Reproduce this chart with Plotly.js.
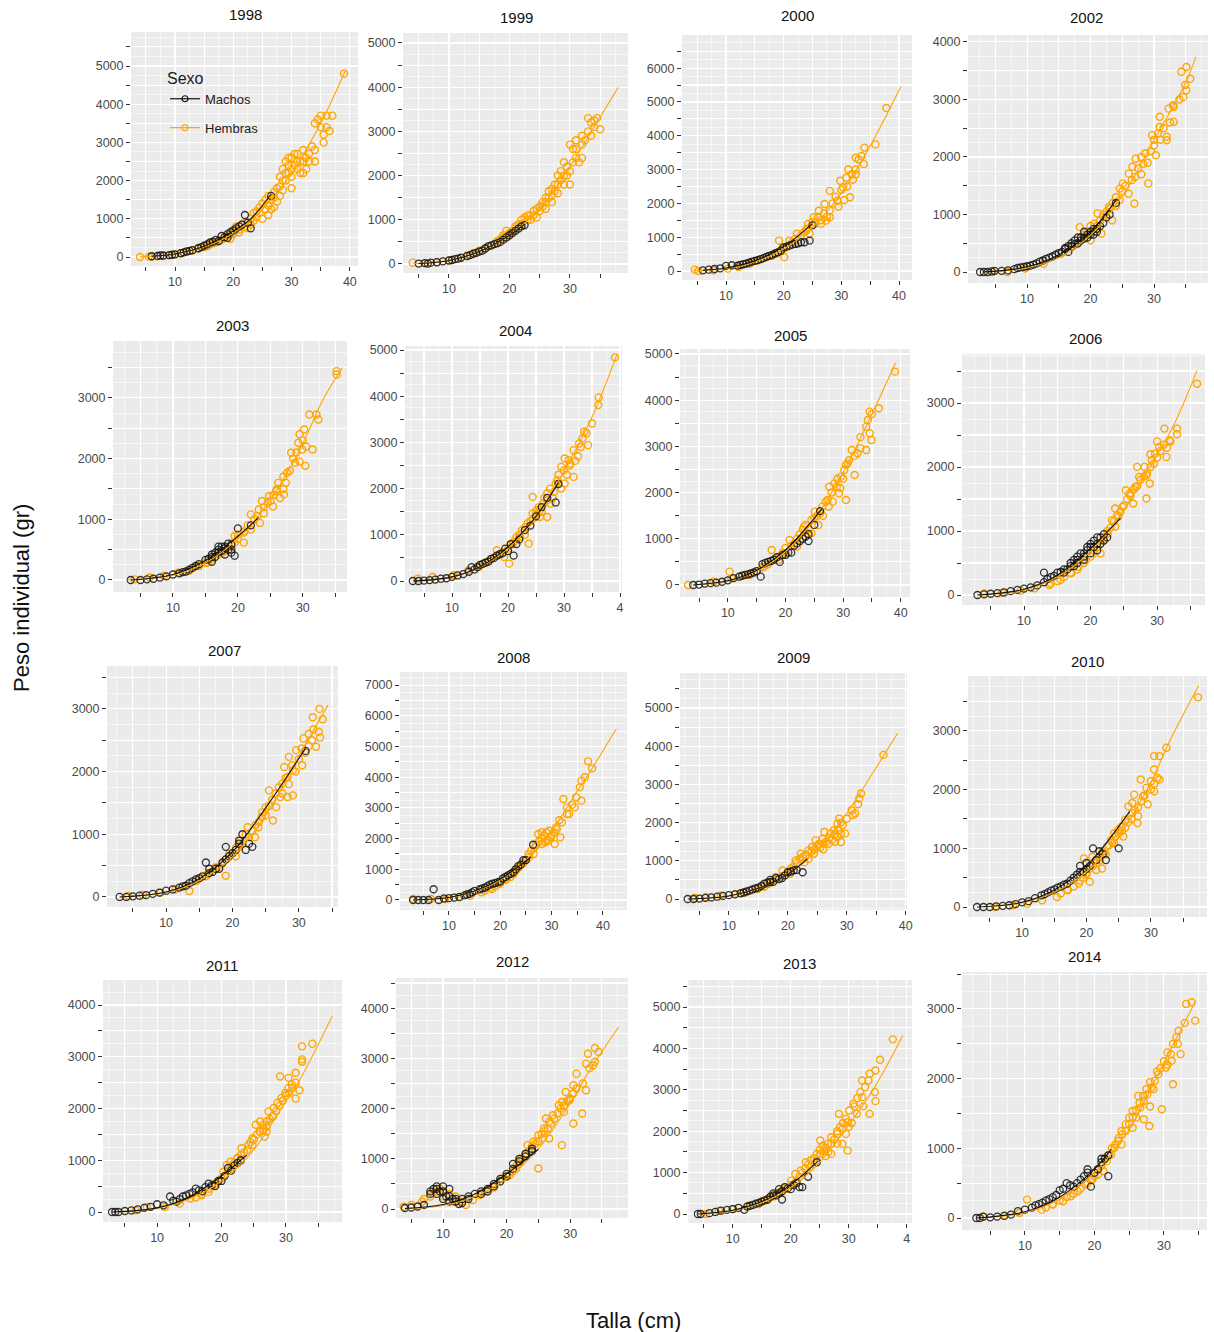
<!DOCTYPE html>
<html>
<head>
<meta charset="utf-8">
<script src="https://cdn.plot.ly/plotly-3.0.1.min.js"></script>
<style>html,body{margin:0;padding:0;background:#fff;}#chart{width:1214px;height:1332px;}</style>
</head>
<body>
<div id="chart"></div>
<script>
// ---------- Data (Talla cm, Peso gr) ----------
const SEXOS = ['Machos', 'Hembras'];
const X_TICKVALS = [5, 10, 15, 20, 25, 30, 35, 40, 45];
const X_TICKTEXT = ['', '10', '', '20', '', '30', '', '40', ''];
const X_TICKTEXT_CUT = ['', '10', '', '20', '', '30', '', '4', ''];
const Y_TICKVALS = [0, 500, 1000, 1500, 2000, 2500, 3000, 3500, 4000, 4500, 5000, 5500, 6000, 6500, 7000, 7500];
const Y_TICKTEXT = ['0', '', '1000', '', '2000', '', '3000', '', '4000', '', '5000', '', '6000', '', '7000', ''];

const H1998 = [[4,0],[5.5,10],[6,10],[7,20],[8,30],[9,50],[10,70],[11,100],[12,130],[13,170],[14,230],[15,260],[16,330],[17,380],[18,450],[19,560],[19.5,480],[20,650],[20.5,800],[21,720],[22,900],[22.5,760],[23,1000],[23.5,1150],[24,1200],[24.5,1300],[25,1400],[25,1000],[25.5,1250],[26,1600],[26,1100],[26.5,1500],[27,1700],[27,1300],[27.5,1800],[28,2100],[28,1600],[28.5,2300],[28.5,2000],[29,2500],[29,2000],[29.5,2200],[29.5,2600],[30,2600],[30,1800],[30,2300],[30.5,2400],[31,2700],[31,2300],[31.5,2500],[32,2800],[32,2200],[32.5,2600],[33,2700],[33.5,2900],[34,3500],[34,2500],[34.5,3600],[35,3700],[35.5,3200],[36,3400],[36.5,3300],[37,3700],[39,4800],
  [15.5,280],[16.5,350],[17.5,420],[18.5,500],[19,520],[20,600],[21,650],[21.5,850],[22,780],[23,850],[23.5,950],[24,1050],[24.5,1150],[25.5,1500],[26,1350],[26.5,1250],[27,1550],[27.5,1450],[28,1850],[28.5,1750],[29,2200],[29.5,2400],[30,2100],[30.5,2700],[31,2500],[31.5,2200],[32,2500],[32.5,2300],[33,2500],[34,2800],[35,3400],[36,3700],[35.5,3000]];
const M1998 = [[6,20],[7,30],[7.5,40],[8,40],[9,50],[9.5,60],[10,70],[11,100],[12,150],[13,180],[14,230],[15,300],[16,380],[17,450],[17.5,420],[18,550],[19,600],[19,500],[20,700],[21,800],[22,1100],[22.5,900],[23,750],[26.5,1600],
  [14.5,260],[15.5,330],[16.5,400],[18.5,520],[19.5,650],[20.5,750],[21.5,850],[12.5,160],[11.5,120]];
const CH1998 = [[4,5],[10,80],[15,260],[20,620],[25,1250],[30,2200],[35,3500],[39.3,4900]];
const CM1998 = [[6,20],[10,80],[15,280],[20,680],[23,1000],[26.5,1650]];

const H1999 = [[4,30],[6,20],[8,40],[10,80],[12,150],[13,200],[14,250],[15,300],[16,350],[17,420],[18,520],[19,600],[19.5,750],[20,650],[21,800],[22,900],[22.5,1050],[23,1000],[23.5,1100],[24,1200],[24.5,1050],[25,1300],[25.5,1400],[26,1500],[26,1250],[26.5,1650],[27,1700],[27,1400],[27.5,1800],[28,1600],[28,2000],[28.5,2100],[29,1800],[29,2300],[29.5,2200],[30,1800],[30,2700],[30.5,2600],[31,2400],[31,2800],[31.5,2300],[32,2900],[32,2700],[33,3300],[33.5,3200],[34,3100],[34.5,3300],[35,3050],
  [18.5,560],[19,650],[20,700],[20.5,750],[21,850],[21.5,900],[22,1000],[23,1100],[23.5,1000],[24,1100],[24.5,1250],[25,1200],[25.5,1300],[26,1400],[26.5,1500],[27,1550],[27.5,1650],[28,1800],[28.5,1900],[29,2000],[29.5,2000],[30,2100],[30.5,2300],[31,2600],[32,2400],[32.5,2800],[33,3000],[34,3250],[33.5,2900]];
const M1999 = [[5,10],[6,20],[6.5,10],[7,30],[8,40],[9,60],[10,80],[11,110],[12,140],[13,180],[14,230],[15,280],[16,350],[16.5,400],[17,420],[18,470],[19,550],[20,650],[21,750],[22,850],[22.5,880],
  [13.5,200],[14.5,250],[15.5,300],[17.5,450],[18.5,500],[19.5,600],[20.5,700],[21.5,800],[10.5,90],[11.5,120]];
const CH1999 = [[4,5],[10,85],[15,280],[20,650],[25,1250],[30,2200],[34,3100],[38,4000]];
const CM1999 = [[5,10],[10,80],[15,280],[20,650],[22.5,900]];

const H2000 = [[4.6,40],[5.2,0],[7.8,20],[10.3,70],[12.2,120],[14.1,215],[15.4,310],[17,410],[18.5,510],[19.2,900],[19.8,700],[20.1,410],[21,900],[22.3,1100],[23.9,1200],[24.2,1390],[25.2,1590],[25.5,1400],[26.1,1780],[26.5,1500],[27.1,1980],[27.3,1490],[28,2370],[28,1590],[29.3,2080],[29.8,2670],[30.3,2470],[30.9,2760],[31.2,3000],[31.5,2180],[31.8,2860],[32.5,3350],[32.5,2860],[33.9,3160],[34,3650],[35.9,3745],[37.8,4820],
  [16,350],[18,450],[19,550],[20,650],[21,750],[21.5,850],[22,950],[23,1050],[23.5,1150],[24,1250],[24.5,1100],[25,1450],[26,1600],[26.5,1400],[27,1700],[27.5,1600],[28,1800],[28.5,2000],[29,2200],[29.5,1900],[30,2400],[30.5,2100],[31,2500],[32,2700],[32.5,3000],[33,3300],[33.5,3400]];
const M2000 = [[6,20],[7,40],[8,60],[9,80],[10,150],[11,170],[12,160],[13,200],[14,250],[15,300],[16,350],[17,420],[18,480],[19,550],[20,700],[21,750],[22,800],[23,850],[23.6,850],[24.5,900],[25,1350],
  [12.5,180],[13.5,220],[14.5,280],[15.5,320],[16.5,380],[17.5,450],[18.5,520],[19.5,600],[20.5,720],[21.5,780],[22.5,820]];
const CH2000 = [[4,0],[10,75],[15,270],[20,650],[25,1300],[30,2300],[35,3700],[40.3,5450]];
const CM2000 = [[6,20],[10,90],[15,300],[20,720],[25,1400]];

const H2002 = [[4.6,0],[6.9,0],[9.7,60],[12.6,145],[15.4,320],[17.1,435],[18.3,780],[19,600],[19.5,700],[20,550],[20,800],[20.6,840],[21.1,1020],[21.7,670],[22,950],[22.9,1130],[23.4,900],[24.6,1450],[24.6,1250],[25.1,1540],[26,1710],[26,1360],[26.6,1830],[26.9,1190],[27.1,1970],[28.3,1880],[28.6,2060],[29.1,1540],[29.7,2380],[30,2200],[30.3,2030],[30.6,2410],[30.9,2700],[30.9,2520],[32,2350],[32,2290],[32.3,2840],[33.1,2870],[33.1,2610],[34.3,3480],[34.6,3040],[34.9,3250],[35.1,3565],[35.1,3160],[35.7,3360],
  [18,500],[19,650],[20.5,700],[21,800],[21.5,900],[22,1000],[22.5,1050],[23,1100],[23.5,1200],[24,1150],[24,1300],[25,1400],[25.5,1500],[26.5,1600],[27,1650],[27.5,1800],[28,1700],[28,2000],[29,1900],[29.5,2100],[30,2300],[31,2300],[31.5,2500],[32.5,2600],[33,2900],[34,3000]];
const M2002 = [[2.6,0],[3.2,0],[3.8,0],[4.4,10],[4.9,20],[7,30],[8,50],[9,80],[10,100],[11,130],[12,180],[13,230],[14,270],[15,330],[16,400],[16.5,350],[17,450],[17.5,550],[18,500],[18.5,600],[19,580],[19.5,650],[20,700],[20.5,650],[21,750],[22,850],[23,1000],[24,1200],
  [13.5,250],[14.5,300],[15.5,350],[16,420],[16.5,450],[17,500],[17.5,480],[18,600],[18.5,550],[19,700],[19.5,600],[20,650],[20.5,750],[21,700],[21.5,800],[22.5,950],[12.5,200],[11.5,150],[10.5,110],[9.5,90],[8.5,70],[6,20]];
const CH2002 = [[3,0],[10,70],[15,250],[20,640],[25,1320],[30,2290],[35,3300],[36.6,3740]];
const CM2002 = [[3,0],[10,90],[15,300],[20,700],[24,1250]];

const H2003 = [[4.1,10],[6.4,40],[8.6,65],[10.8,120],[12.5,150],[13.6,230],[15.3,285],[16.4,370],[17.6,450],[18.7,505],[19.5,725],[19.5,615],[20.9,780],[20.9,615],[22,1080],[22,830],[23.2,1160],[23.4,940],[23.7,1300],[24.6,1270],[24.8,1380],[25.4,1210],[25.9,1465],[26.2,1600],[27.1,1410],[27.4,1600],[27.6,1766],[28.2,2095],[28.8,1930],[29.3,2260],[29.9,2150],[30.2,2480],[30.4,1880],[31,2726],[31.5,2150],[32.1,2726],[32.4,2644],[35.2,3440],[35.2,3385],
  [14,230],[15,280],[16,340],[17,420],[18,480],[19,600],[20,680],[20,750],[21,800],[21.5,900],[22.5,1000],[23,1050],[24,1200],[24,1100],[25,1300],[25.5,1400],[26,1500],[26.5,1350],[27,1500],[27,1700],[28,1800],[28.5,2000],[29,2100],[29.5,1950],[30,2300],[30.5,2200],[29.5,2400]];
const M2003 = [[3.5,0],[5,0],[6,10],[7,20],[8,40],[9,60],[10,90],[11,110],[12,140],[13,200],[14,260],[15,330],[16,380],[16.5,450],[17,500],[17.5,550],[18,520],[18,420],[18.5,600],[19,500],[19.5,400],[20,850],[22,900],
  [15.5,350],[16,420],[16.5,380],[17,460],[17.5,480],[18,550],[18.5,500],[19,580],[19,450],[17,550],[16,300],[13.5,230],[12.5,170],[11.5,130]];
const CH2003 = [[3,0],[10,80],[15,280],[20,680],[25,1320],[30,2250],[33,2950],[36.1,3500]];
const CM2003 = [[3.5,0],[10,90],[15,320],[20,720],[23.2,1030]];

const H2004 = [[3.9,51],[6.5,87],[10.3,123],[12.9,231],[14.8,303],[16.7,448],[18,665],[19.3,520],[20.2,376],[20.9,809],[22.1,954],[23.1,1170],[23.7,809],[24.4,1460],[24.4,1821],[25.1,1532],[25.7,1387],[25.7,1532],[26.3,1676],[27,1387],[27,1750],[27.6,1676],[28.2,1929],[28.8,2182],[29.5,2471],[30.1,2652],[30.1,2110],[30.8,2616],[31.1,2543],[31.7,2832],[31.7,2254],[32.7,2977],[33.3,3085],[33.6,3230],[34.3,2941],[35,3410],[36.1,3808],[36.2,3974],[39.1,4841],
  [15,350],[16,400],[17,480],[18,550],[19,620],[20,700],[20.5,800],[21,850],[21.5,950],[22,1000],[22.5,1100],[23,1000],[23.5,1250],[24,1300],[24.5,1350],[25,1450],[25.5,1600],[26,1500],[26.5,1800],[27,1900],[27.5,2000],[28,1800],[28.5,2100],[29,2300],[29.5,2000],[30,2400],[30.5,2300],[31,2500],[32,2600],[32.5,2700],[33,2900],[34,3200]];
const M2004 = [[3,0],[4,0],[5,10],[6,20],[7,30],[8,50],[9,60],[10,90],[11,120],[12,150],[13,200],[13.5,300],[14,250],[15,350],[16,400],[17,480],[18,550],[19,600],[20,650],[21,550],[22,900],[25,1400],[28.5,1700],[29,2100],
  [14.5,300],[15.5,370],[16.5,420],[17.5,500],[18.5,580],[19.5,700],[20.5,800],[21.5,800],[23,1100],[24,1200],[26,1600],[27,1800]];
const CH2004 = [[4,0],[10,90],[15,300],[20,700],[25,1380],[30,2380],[35,3550],[39.4,4890]];
const CM2004 = [[3,0],[10,90],[15,310],[20,740],[25,1400],[29,2130]];

const H2005 = [[3.1,0],[7.5,72],[10.3,289],[10.6,144],[13.8,216],[16.3,397],[17.6,758],[18.8,541],[20.1,685],[20.7,974],[22,830],[23.2,1263],[23.9,1118],[24.5,1407],[24.5,1118],[25.1,1587],[25.7,1299],[26.4,1696],[27.3,1840],[27.6,2128],[28.2,1804],[28.9,2128],[29.3,1984],[29.6,2345],[30.2,2489],[30.5,1840],[30.8,2633],[31.5,2922],[32,2381],[32.5,2850],[33,2958],[34,2922],[34,3427],[34.3,3571],[34.6,3283],[34.6,3752],[34.9,3139],[36.2,3824],[39,4618],
  [12,180],[14,250],[15,300],[16,380],[17,450],[18,550],[19,620],[19.5,700],[20,800],[21,850],[21.5,900],[22,1000],[22.5,1100],[23,1200],[23.5,1300],[24,1200],[25,1450],[25.5,1500],[26,1550],[26.5,1500],[27,1800],[27.5,1700],[28,2000],[28.5,2200],[29,2300],[29.5,2100],[30,2300],[30.5,2600],[31,2700],[32,2800],[33,3200],[35,3700]];
const M2005 = [[4,0],[5,10],[6,30],[7,40],[8,50],[9,70],[10,100],[11,150],[12,180],[13,220],[14,250],[15,300],[15.7,180],[16,450],[17,500],[18,550],[19,500],[20,650],[21,700],[22,900],[23,1000],[24,1100],[24,950],[26,1600],
  [12.5,200],[13.5,230],[14.5,270],[16.5,480],[17.5,520],[18.5,600],[19.5,650],[20.5,700],[21.5,850],[22.5,950],[23.5,1050],[25,1300]];
const CH2005 = [[4,0],[10,85],[15,300],[20,720],[25,1420],[30,2430],[35,3700],[39.1,4810]];
const CM2005 = [[4,0],[10,90],[15,320],[20,760],[26.4,1660]];

const H2006 = [[4,26],[6.7,36],[9.5,68],[11.6,104],[13.8,156],[15.5,234],[17.1,338],[18.2,442],[19.3,546],[20.4,650],[21.5,650],[22,858],[22.6,962],[23.2,1170],[23.7,1066],[23.7,1352],[24.2,1222],[24.8,1378],[25.3,1638],[25.9,1586],[26.4,1430],[26.7,1690],[27,2002],[27.3,1846],[28.1,2002],[28.4,1872],[28.4,1508],[28.9,1742],[29.2,2106],[29.7,2210],[30.3,2314],[31.1,2600],[31.4,2158],[31.9,2418],[33,2512],[36,3302],
  [14,180],[15,220],[16,280],[17,350],[18,400],[19,500],[20,600],[20.5,700],[21,750],[21.5,800],[22,900],[22.5,1000],[23,1050],[23.5,1150],[24,1250],[24.5,1300],[25,1400],[25.5,1500],[26,1550],[26.5,1650],[27,1700],[27.5,1800],[28,1850],[28.5,1900],[29,2000],[29.5,2050],[30,2150],[30.5,2250],[31,2350],[31.5,2300],[32,2400],[33,2600],[30,2400],[29,2200]];
const M2006 = [[3,0],[4,10],[5,20],[6,30],[7,40],[8,60],[9,80],[10,100],[11,120],[12,150],[13,200],[13,350],[14,280],[15,350],[16,350],[16.5,400],[17,450],[18,550],[18.5,650],[19,600],[19.5,700],[20,750],[20.5,850],[21,800],[21.5,900],[22,950],
  [15.5,360],[16,400],[17,500],[17.5,450],[17.5,550],[18,600],[18,500],[19,650],[19,550],[19.5,750],[20,800],[20,650],[20.5,750],[21,900],[21,700],[21.5,800],[22,850],[22.5,900],[14.5,300],[13.5,250]];
const CH2006 = [[3,0],[10,80],[15,280],[20,680],[25,1330],[30,2200],[32,2550],[34,3000],[36,3510]];
const CM2006 = [[3,0],[10,90],[15,310],[20,730],[24.5,1200]];

const H2007 = [[4.3,16],[6.5,32],[9.2,70],[11.4,123],[12.9,176],[13.5,96],[14.6,257],[16.3,364],[17.4,471],[18.4,524],[19,337],[19.5,684],[20.6,791],[21.2,898],[22.3,1112],[23.4,952],[23.9,1112],[24.4,1273],[25,1433],[25.5,1700],[26.1,1219],[26.6,1433],[27.2,1594],[27.5,1807],[27.8,2074],[28.3,1914],[28.3,1594],[28.5,2235],[29.1,2021],[29.1,1620],[29.6,2342],[30.4,2369],[30.7,2529],[31.5,2406],[32.1,2866],[32.2,2674],[32.6,2396],[33,2636],[33.1,3000],[33.2,2545],[33.6,2834],
  [15,300],[16,330],[17,400],[18,480],[19,600],[20,700],[20.5,650],[21,800],[21.5,850],[22,1000],[22.5,950],[23,1050],[23.5,1150],[24,1200],[24.5,1350],[25,1300],[25.5,1450],[26,1550],[26.5,1650],[27,1750],[27.5,1650],[28,1900],[28.5,1800],[29,2100],[29.5,2000],[30,2200],[30.5,2100],[31,2300],[31.5,2600],[32,2500]];
const M2007 = [[3,0],[4,0],[5,10],[6,20],[7,30],[8,50],[9,70],[10,100],[11,120],[12,150],[13,180],[14,250],[15,300],[16,550],[16.5,450],[17,400],[18,450],[19,600],[19,800],[20,700],[21,850],[21.5,1000],[22,750],[23,800],[31,2330],
  [14.5,280],[15.5,330],[16.5,380],[17.5,450],[18.5,550],[19.5,650],[20.5,750],[21,900],[22.5,850],[12.5,170],[13.5,220]];
const CH2007 = [[3,0],[10,75],[15,260],[20,640],[25,1300],[30,2250],[34.4,3060]];
const CM2007 = [[3,0],[10,80],[15,290],[20,720],[25,1420],[31,2370]];

const H2008 = [[3,33],[6.5,33],[9.3,33],[12.1,87],[14.2,141],[16.3,250],[18.4,358],[19.8,521],[21.2,684],[22.6,847],[23.6,1064],[24.7,1281],[25.6,1390],[26.7,1716],[27.4,2150],[28.1,2204],[28.1,1824],[28.8,1878],[29.1,1932],[29.5,2258],[29.8,2041],[30.6,1824],[30.9,2367],[31.7,2041],[32,2530],[32.3,3290],[33,3018],[33.4,2801],[34.5,3018],[34.8,3344],[35.5,3670],[35.8,3887],[35.8,3236],[36.5,3996],[37.1,4517],[37.9,4289],
  [17,300],[18,400],[19,450],[20,550],[21,650],[22,750],[22.5,900],[23,950],[23.5,1050],[24,1150],[24.5,1200],[25,1300],[25.5,1500],[26,1600],[26.5,1500],[27,1800],[27.5,1900],[28,2000],[28.5,2100],[29,2200],[29.5,1950],[30,2100],[30.5,2200],[31,2300],[31.5,2600],[33,2800],[34,3100]];
const M2008 = [[3,0],[4,0],[5,0],[6,0],[7,350],[8,0],[9,50],[10,60],[11,80],[12,100],[13,150],[14,200],[15,300],[16,350],[17,400],[18,500],[19,550],[20,600],[21,750],[22,850],[23,1000],[24.5,1300],[25,1300],[26.4,1800],
  [16.5,380],[17.5,450],[18.5,530],[19.5,580],[20.5,700],[21.5,800],[22.5,900],[23.5,1100],[24,1150],[14.5,250],[13.5,180]];
const CH2008 = [[3,0],[10,80],[15,280],[20,650],[25,1300],[30,2250],[35,3550],[37.2,4100],[42.6,5570]];
const CM2008 = [[3,0],[10,80],[15,290],[20,680],[26,1400]];

const H2009 = [[4.2,26],[6.1,44],[8.6,88],[11.1,132],[12.9,175],[14.8,263],[16.6,395],[17.9,570],[19.1,746],[20.4,658],[21.3,1009],[22.2,1184],[22.8,965],[23.5,1272],[24.1,1360],[24.4,1184],[24.7,1535],[25.3,1447],[25.9,1579],[26.2,1754],[26.9,1447],[27.2,1711],[27.8,1798],[28.4,1974],[28.4,1623],[28.7,2105],[29,1491],[29.3,1930],[29.7,1711],[30.8,2325],[31.4,2237],[31.9,2482],[32.1,2632],[32.4,2763],[36.2,3772],
  [16,320],[17,420],[18,500],[19,600],[20,700],[20.5,800],[21,850],[21.5,950],[22,1050],[22.5,1100],[23,1150],[23.5,1050],[24,1250],[24.5,1300],[25,1400],[25.5,1350],[26,1450],[26.5,1500],[27,1600],[27.5,1550],[28,1700],[28.5,1800],[29,1700],[29,2000],[30,2100],[31,2200],[28,1500],[26,1300]];
const M2009 = [[3,0],[4,0],[5,10],[6,30],[7,40],[8,60],[9,80],[10,100],[11,120],[12,150],[13,200],[14,250],[15,300],[16,400],[17,500],[17.5,450],[18,550],[19,550],[20,700],[21,750],[22.5,700],
  [14.5,280],[15.5,340],[16.5,430],[17,450],[18.5,520],[19.5,620],[20.5,720],[21.5,760],[13.5,220],[12.5,170]];
const CH2009 = [[4,0],[10,85],[15,280],[20,650],[25,1280],[30,2250],[35,3450],[38.6,4340]];
const CM2009 = [[3,0],[10,80],[15,280],[20,650],[23.3,1050]];

const H2010 = [[5.8,0],[8.6,29],[10.8,57],[13.1,114],[15.4,171],[17.1,286],[18.8,400],[19.6,829],[19.9,571],[20.5,429],[20.9,857],[21.5,629],[22.1,800],[22.4,657],[22.7,914],[23.2,1029],[23.8,1143],[24.3,1257],[24.3,1086],[24.9,1314],[25.4,1371],[25.7,1200],[26,1486],[26.5,1714],[27.1,1771],[27.1,1600],[27.4,1914],[27.9,1429],[28.4,2171],[28.8,1886],[29.3,2029],[30,2143],[30.5,2571],[30.5,2343],[30.5,1971],[31.3,2571],[31.3,2171],[32.4,2714],[37.3,3571],
  [16,230],[17,300],[18,350],[19,450],[19.5,500],[20,550],[20.5,650],[21,700],[21.5,750],[22,850],[22.5,950],[23,900],[23.5,1050],[24,1100],[24.5,1200],[25,1250],[25.5,1300],[26,1350],[26.5,1450],[27,1500],[27.5,1650],[28,1700],[28.5,1800],[29,1900],[29.5,1750],[30,2000],[30.5,2100],[31,2200],[28,1550]];
const M2010 = [[3,0],[4,0],[5,0],[6,10],[7,20],[8,30],[9,50],[10,80],[11,100],[12,150],[13,200],[14,250],[15,300],[16,350],[17,400],[18,500],[19,700],[19.5,600],[20,650],[21,1000],[22,950],[23,800],[25,1000],
  [16.5,380],[17.5,450],[18.5,550],[19,600],[20,750],[20.5,700],[21.5,800],[22.5,900],[15.5,330],[14.5,280],[13.5,220]];
const CH2010 = [[4,0],[10,75],[15,250],[20,600],[25,1200],[30,2130],[33,2850],[37.4,3770]];
const CM2010 = [[3,0],[10,80],[15,290],[20,700],[26.7,1630]];

const H2011 = [[6.7,32],[8.4,97],[11.2,97],[13.5,162],[15.2,259],[16.9,324],[18,389],[19.1,518],[20.3,778],[20.8,907],[21.4,972],[22.5,1037],[23.1,1231],[24.2,1296],[24.8,1426],[24.8,1296],[25.3,1685],[25.9,1555],[26.5,1685],[26.7,1458],[27,1750],[27.3,1944],[27.9,1847],[28.1,2009],[28.7,2106],[29.1,2618],[29.3,2203],[29.9,2301],[30.4,2592],[30.4,2398],[30.9,2463],[31.5,2690],[31.5,2191],[32.1,2353],[32.5,3201],[32.5,2949],[32.5,2903],[34.1,3253],
  [16,280],[17,350],[18,450],[19,550],[19.5,600],[20,650],[21,800],[21.5,850],[22,950],[22.5,1050],[23,1100],[23.5,1150],[24,1200],[24.5,1350],[25,1400],[25.5,1500],[26,1550],[26.5,1600],[27,1650],[27.5,1800],[28,1850],[28.5,1950],[29,2050],[29.5,2150],[30,2250],[30.5,2300],[31,2400],[31.5,2500],[26,1750],[27,1550]];
const M2011 = [[3,0],[3.5,0],[4,0],[5,20],[6,30],[7,50],[8,80],[9,100],[10,150],[11,130],[12,300],[13,200],[14,300],[15,350],[16,450],[17,400],[18,550],[19,500],[20,600],[21,850],[22,900],[23,1000],
  [15.5,380],[16.5,420],[17.5,480],[18.5,520],[19.5,600],[20.5,700],[21.5,800],[22.5,950],[14.5,320],[13.5,250],[12.5,220]];
const CH2011 = [[4,0],[10,70],[15,250],[20,600],[25,1200],[30,2150],[32,2520],[37.2,3790]];
const CM2011 = [[3,0],[10,80],[15,290],[20,700],[23.9,1100]];

const H2012 = [[3.8,46],[5,79],[6.7,146],[8.4,311],[9.5,411],[10.1,344],[11.8,146],[13.6,79],[14.7,179],[15.8,278],[17,344],[18.1,477],[19.3,609],[20.5,675],[21.6,874],[22.2,1007],[23.3,1272],[24.2,1338],[25,1470],[25,808],[25.6,1404],[25.9,1603],[26.2,1801],[26.7,1735],[26.7,1404],[27.3,1868],[28.2,2066],[28.7,2132],[28.7,1272],[29,1934],[29.3,2331],[29.9,2166],[30.5,2464],[30.5,1702],[31,2695],[31.9,1901],[32.5,2894],[32.5,2364],[32.8,3093],[33.6,2861],[33.9,3205],[33.9,2927],[34.5,3126],
  [16,300],[17,380],[18,430],[19,550],[20,650],[21,750],[21.5,800],[22,900],[22.5,1000],[23,1100],[23.5,1150],[24,1250],[24.5,1300],[25,1350],[25.5,1500],[26,1550],[26.5,1600],[27,1700],[27.5,1800],[28,1900],[28.5,2000],[29,2050],[29.5,2150],[30,2200],[30.5,2300],[31,2400],[32,2500],[33,2800],[7,200],[8,250],[9,350],[10,250],[11,300],[12,250],[13,150]];
const M2012 = [[4,20],[5,30],[6,50],[7,80],[8,300],[8.5,400],[9,450],[9.5,350],[10,450],[10.5,250],[11,400],[11.5,200],[12,150],[12.5,100],[13,200],[14,250],[15,300],[16,350],[17,400],[18,500],[19,550],[20,700],[21,900],[22,1000],[23,1100],[24,1200],
  [8,350],[9,400],[9,300],[10,350],[11,250],[12,200],[10,200],[11,150],[13,120],[14,200],[16,300],[17,350],[18,450],[19,600],[20,650],[21,800],[22,950],[23,1050],[24,1150]];
const CH2012 = [[4,0],[10,70],[15,250],[20,600],[25,1200],[30,2100],[33,2750],[37.6,3620]];
const CM2012 = [[4,10],[10,90],[15,300],[20,700],[25,1190]];

const H2013 = [[5.4,0],[7.6,81],[10.1,121],[12.6,202],[14.5,242],[16.4,403],[17.6,484],[18.9,645],[20.1,806],[20.8,968],[21.7,1048],[22.6,1250],[23.3,1129],[24.5,1290],[25.1,1452],[25.1,1774],[25.8,1532],[26.4,1694],[27,1855],[27,1452],[28,1935],[28.3,2419],[28.9,2056],[28.9,1694],[29.5,1935],[29.8,2218],[29.8,1532],[30.1,2500],[30.8,2661],[31.4,2419],[32,2944],[32.3,3226],[32.3,2823],[32.8,3065],[33.4,3226],[33.6,3387],[33.6,2419],[34.5,2944],[34.6,3468],[34.6,2726],[35.4,3726],[37.6,4218],
  [15,300],[16,350],[17,420],[18,520],[19,600],[20,700],[21,800],[21.5,900],[22,1000],[22.5,1100],[23,1200],[23.5,1300],[24,1350],[24.5,1450],[25,1550],[25.5,1650],[26,1600],[26.5,1500],[27,1700],[27.5,1800],[28,2000],[28.5,2100],[29,2200],[29.5,2300],[30,2100],[30.5,2200],[31,2600],[31.5,2800],[32.5,2600],[28,1700],[26,1400]];
const M2013 = [[4,0],[4.5,0],[6,20],[7,50],[8,80],[9,100],[10,120],[11,150],[12,100],[13,200],[14,250],[15,300],[16,350],[17,500],[17.5,450],[18,600],[18.5,350],[19,650],[20,600],[21,750],[22,650],[24.5,1250],
  [12.5,180],[13.5,220],[14.5,270],[15.5,330],[16.5,420],[17,450],[18,500],[18.5,550],[19.5,620],[20.5,700],[21.5,650],[23,900]];
const CH2013 = [[5,0],[10,80],[15,270],[20,640],[25,1250],[30,2150],[34.5,3070],[39.3,4310]];
const CM2013 = [[4,0],[10,90],[15,300],[20,710],[24.8,1290]];

const H2014 = [[4,19],[7.1,38],[9.2,72],[10.3,264],[12.4,120],[14,192],[15.5,240],[16.6,312],[17.6,384],[18.7,480],[19.7,552],[20.5,624],[21.3,672],[21.8,816],[22.4,912],[22.9,1008],[23.4,1104],[23.9,1248],[23.9,1056],[24.5,1344],[25,1440],[25.5,1536],[25.5,1296],[26,1440],[26.3,1752],[26.6,1584],[27.1,1680],[27.1,1416],[27.6,1776],[27.9,1320],[28.2,1872],[28.7,1968],[29.2,2064],[29.7,1560],[30.3,2160],[30.5,2376],[31.1,2256],[31.3,2496],[31.3,1920],[31.8,2592],[32.1,2688],[32.4,2352],[33.2,3072],[34,3096],[34.5,2832],
  [13,150],[14,200],[15,250],[16,300],[17,350],[18,420],[19,500],[19.5,550],[20,600],[20.5,700],[21,750],[21.5,850],[22,900],[22.5,1000],[23,1050],[23.5,1150],[24,1200],[24.5,1250],[25,1350],[25.5,1450],[26,1550],[26.5,1650],[27,1750],[27.5,1850],[28,1950],[28.5,1850],[29,2100],[29.5,2150],[30,2250],[30.5,2200],[31,2350],[32,2500],[33,2800],[28,1600]];
const M2014 = [[3,0],[3.5,0],[4,20],[5,10],[6,20],[7,30],[8,50],[9,100],[10,120],[11,150],[12,200],[13,250],[14,300],[15,400],[16,500],[17,450],[18,550],[19,700],[19.5,450],[20,650],[21,800],[21.5,850],[22,600],
  [13.5,270],[14.5,330],[15.5,420],[16.5,470],[17.5,500],[18.5,600],[19,650],[20.5,700],[21,850],[22,900],[12.5,220],[11.5,180]];
const CH2014 = [[4,0],[10,80],[15,270],[20,650],[25,1270],[30,2230],[34.5,3100]];
const CM2014 = [[3,0],[10,90],[15,300],[20,700],[22.4,985]];

// ---------- Panel layout (pixel boxes of plotting areas) ----------
const W = 1214, H = 1332;
const PANELS = [
  {year:'1998', h:H1998, m:M1998, ch:CH1998, cm:CM1998, box:[131,32,358,266], xr:[2.45,41.4], yr:[-235,5890], title:[245,15]},
  {year:'1999', h:H1999, m:M1999, ch:CH1999, cm:CM1999, box:[403,33,628,273], xr:[2.4,39.6], yr:[-204,5226], title:[516,18]},
  {year:'2000', h:H2000, m:M2000, ch:CH2000, cm:CM2000, box:[682,35,912,280], xr:[2.37,42.25], yr:[-266,6980], title:[797,16]},
  {year:'2002', h:H2002, m:M2002, ch:CH2002, cm:CM2002, box:[968,35,1208,283], xr:[0.7,38.5], yr:[-191,4120], title:[1086,17]},
  {year:'2003', h:H2003, m:M2003, ch:CH2003, cm:CM2003, box:[113,341,347,592], xr:[0.77,36.8], yr:[-198,3937], title:[232,325]},
  {year:'2004', h:H2004, m:M2004, ch:CH2004, cm:CM2004, box:[405,346,622,592], xr:[1.6,40.35], yr:[-238,5087], title:[515,330], cut:true},
  {year:'2005', h:H2005, m:M2005, ch:CH2005, cm:CM2005, box:[680,349,910,597], xr:[1.7,41.6], yr:[-260,5108], title:[790,335]},
  {year:'2006', h:H2006, m:M2006, ch:CH2006, cm:CM2006, box:[962,354,1205,605], xr:[0.68,37.2], yr:[-156,3766], title:[1085,338]},
  {year:'2007', h:H2007, m:M2007, ch:CH2007, cm:CM2007, box:[107,666,338,907], xr:[1.1,35.9], yr:[-160,3684], title:[224,650]},
  {year:'2008', h:H2008, m:M2008, ch:CH2008, cm:CM2008, box:[400,672,627,910], xr:[0.45,44.7], yr:[-326,7427], title:[513,657]},
  {year:'2009', h:H2009, m:M2009, ch:CH2009, cm:CM2009, box:[680,673,907,910], xr:[1.7,40.2], yr:[-288,5916], title:[793,657]},
  {year:'2010', h:H2010, m:M2010, ch:CH2010, cm:CM2010, box:[968,676,1207,917], xr:[1.6,38.7], yr:[-170,3935], title:[1087,662]},
  {year:'2011', h:H2011, m:M2011, ch:CH2011, cm:CM2011, box:[103,980,342,1222], xr:[1.6,38.7], yr:[-193,4483], title:[222,965]},
  {year:'2012', h:H2012, m:M2012, ch:CH2012, cm:CM2012, box:[396,978,628,1218], xr:[2.6,39.1], yr:[-179,4600], title:[512,961]},
  {year:'2013', h:H2013, m:M2013, ch:CH2013, cm:CM2013, box:[688,980,912,1223], xr:[2.3,40.9], yr:[-217,5652], title:[799,963], cut:true},
  {year:'2014', h:H2014, m:M2014, ch:CH2014, cm:CM2014, box:[962,972,1207,1230], xr:[0.94,36.2], yr:[-172,3530], title:[1084,956]}
];

const ORANGE = '#FFA500';
const BLACK = '#111111';
const FONT = 'Liberation Sans, Arial, sans-serif';
const xs = a => a.map(p => p[0]);
const ys = a => a.map(p => p[1]);

const traces = [];
const layout = {
  width: W, height: H,
  margin: {l:0, r:0, t:0, b:0},
  paper_bgcolor: '#ffffff',
  plot_bgcolor: '#EBEBEB',
  font: {family: FONT, color: '#4d4d4d'},
  showlegend: true,
  legend: {
    x: 165/W, y: 1 - 63/H, xanchor: 'left', yanchor: 'top',
    bgcolor: 'rgba(0,0,0,0)',
    font: {size: 13, color: '#1a1a1a', family: FONT},
    title: {text: 'Sexo', font: {size: 16, color: '#1a1a1a', family: FONT}},
    tracegroupgap: 9, itemwidth: 30
  },
  annotations: [],
  shapes: []
};

PANELS.forEach((p, i) => {
  const n = i + 1;
  const xa = 'x' + (n === 1 ? '' : n), ya = 'y' + (n === 1 ? '' : n);
  const [x0, y0, x1, y1] = p.box;
  const common = {
    ticks: 'outside', ticklen: 4, tickwidth: 1, tickcolor: '#333333',
    showgrid: true, gridcolor: '#ffffff', gridwidth: 1.1,
    zeroline: false, showline: false, fixedrange: true,
    tickfont: {size: 12.5, color: '#4a4a4a', family: FONT}
  };
  layout['xaxis' + (n === 1 ? '' : n)] = Object.assign({}, common, {
    domain: [x0 / W, x1 / W], range: p.xr, anchor: ya,
    tickmode: 'array', tickvals: X_TICKVALS, ticktext: p.cut ? X_TICKTEXT_CUT : X_TICKTEXT,
    minor: {tickmode: 'linear', tick0: 0, dtick: 2.5, showgrid: true, gridcolor: '#ffffff', gridwidth: 0.6, ticks: ''}
  });
  layout['yaxis' + (n === 1 ? '' : n)] = Object.assign({}, common, {
    domain: [1 - y1 / H, 1 - y0 / H], range: p.yr, anchor: xa,
    tickmode: 'array', tickvals: Y_TICKVALS, ticktext: Y_TICKTEXT,
    minor: {tickmode: 'linear', tick0: 0, dtick: 250, showgrid: true, gridcolor: '#ffffff', gridwidth: 0.6, ticks: ''}
  });
  layout.annotations.push({
    text: p.year, xref: 'paper', yref: 'paper', x: p.title[0] / W, y: 1 - p.title[1] / H,
    xanchor: 'center', yanchor: 'middle', showarrow: false,
    font: {size: 15, color: '#111111', family: FONT}
  });
  traces.push({
    type: 'scatter', mode: 'markers', x: xs(p.h), y: ys(p.h), xaxis: xa, yaxis: ya,
    name: SEXOS[1], legendgroup: 'H', showlegend: false, hoverinfo: 'skip',
    marker: {symbol: 'circle-open', size: 7, color: ORANGE, line: {width: 1.4, color: ORANGE}}
  });
  traces.push({
    type: 'scatter', mode: 'markers', x: xs(p.m), y: ys(p.m), xaxis: xa, yaxis: ya,
    name: SEXOS[0], legendgroup: 'M', showlegend: false, hoverinfo: 'skip',
    marker: {symbol: 'circle-open', size: 7, color: 'rgba(20,20,20,0.85)', line: {width: 1.3, color: 'rgba(20,20,20,0.85)'}}
  });
  traces.push({
    type: 'scatter', mode: 'lines', x: xs(p.ch), y: ys(p.ch), xaxis: xa, yaxis: ya,
    name: SEXOS[1], legendgroup: 'H', showlegend: false, hoverinfo: 'skip',
    line: {color: ORANGE, width: 1.1, shape: 'spline'}
  });
  traces.push({
    type: 'scatter', mode: 'lines', x: xs(p.cm), y: ys(p.cm), xaxis: xa, yaxis: ya,
    name: SEXOS[0], legendgroup: 'M', showlegend: false, hoverinfo: 'skip',
    line: {color: BLACK, width: 1.1, shape: 'spline'}
  });
});

// legend-only entries (no marks on the plot)
traces.push({type: 'scatter', mode: 'lines+markers', x: [null], y: [null], xaxis: 'x', yaxis: 'y',
  name: SEXOS[0], legendgroup: 'M', legendrank: 1, showlegend: true,
  line: {color: BLACK, width: 1.2}, marker: {symbol: 'circle-open', size: 6, color: BLACK, line: {width: 1.2}}});
traces.push({type: 'scatter', mode: 'lines+markers', x: [null], y: [null], xaxis: 'x', yaxis: 'y',
  name: SEXOS[1], legendgroup: 'H', legendrank: 2, showlegend: true,
  line: {color: ORANGE, width: 1.2}, marker: {symbol: 'circle-open', size: 6, color: ORANGE, line: {width: 1.2}}});

layout.annotations.push({
  text: 'Peso individual (gr)', xref: 'paper', yref: 'paper', x: 22 / W, y: 1 - 598 / H,
  xanchor: 'center', yanchor: 'middle', textangle: -90, showarrow: false,
  font: {size: 22, color: '#111111', family: FONT}
});
layout.annotations.push({
  text: 'Talla (cm)', xref: 'paper', yref: 'paper', x: 634 / W, y: 1 - 1320 / H,
  xanchor: 'center', yanchor: 'middle', showarrow: false,
  font: {size: 22, color: '#111111', family: FONT}
});

Plotly.newPlot('chart', traces, layout, {staticPlot: true, displayModeBar: false});
</script>
</body>
</html>
